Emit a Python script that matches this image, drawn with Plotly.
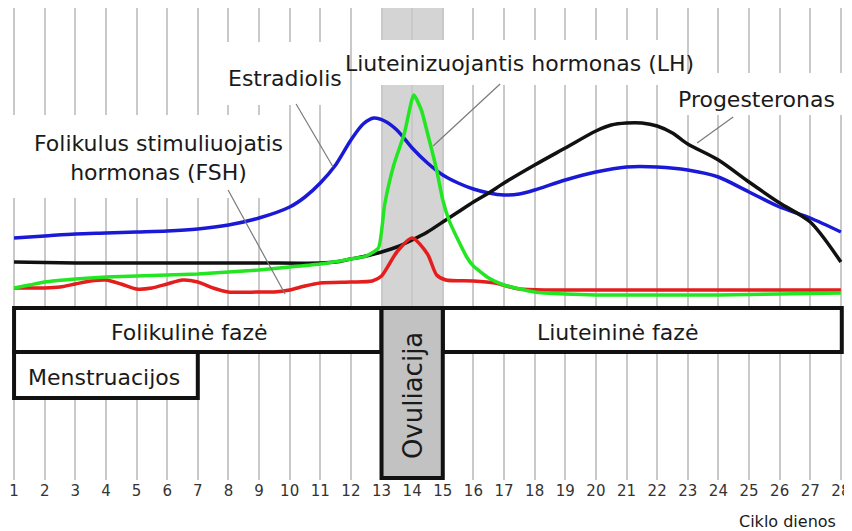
import plotly.graph_objects as go

# cycle days (x axis)
days = list(range(1, 29))

# hormone levels, arbitrary units
estr_day = [1, 2, 3, 4, 5, 6, 7, 8, 9, 10, 10.5, 11, 11.5, 12, 12.4, 12.75, 13.1, 13.5,
            14, 14.5, 15, 15.5, 16, 16.5, 17, 17.5, 18, 19, 20, 21, 22, 23, 24, 25, 26, 27, 28]
estr_lvl = [242, 244, 246, 247, 248, 249, 251, 255, 262, 273, 283, 297, 315, 340, 356, 362, 359, 350,
            332, 317, 305, 297, 291, 287, 285, 286, 290, 300, 308, 313, 313, 310, 303, 288, 273, 262, 248]

prog_day = [1, 3, 5, 7, 9, 11, 11.5, 12, 12.5, 13, 13.5, 14, 14.5, 15, 15.5, 16, 16.5, 17,
            18, 19, 20, 20.5, 21, 21.5, 22, 22.5, 23, 24, 25, 26, 27, 28]
prog_lvl = [218, 217, 217, 217, 217, 217, 218, 221, 224, 228, 233, 240, 248, 258, 268, 278, 287, 297,
            315, 332, 349, 355, 357, 357, 354, 347, 336, 320, 298, 277, 258, 218]

lh_day = [1, 1.5, 2, 3, 4, 5, 6, 7, 8, 9, 10, 11, 12, 12.5, 12.9, 13.1, 13.4, 13.75, 14.05,
          14.3, 14.5, 14.8, 15, 15.2, 15.5, 15.8, 16, 16.5, 17, 18, 19, 20, 22, 24, 26, 28]
lh_lvl = [192, 195, 198, 201, 203, 204, 205, 206, 208, 210, 213, 216, 221, 224, 232, 275, 315, 347, 385,
          370, 347, 310, 280, 260, 240, 222, 214, 202, 195, 188, 186, 185, 185, 185, 186, 187]

fsh_day = [1, 2, 2.5, 3, 3.5, 4, 4.5, 5, 5.5, 6, 6.5, 7, 7.5, 8, 9, 9.5, 10, 10.5, 11, 12, 12.7,
           13, 13.5, 14, 14.5, 14.8, 15.1, 16, 16.7, 17.5, 18.5, 20, 24, 28]
fsh_lvl = [192, 192, 193, 196, 199, 200, 196, 191, 192, 196, 200, 198, 192, 188, 188, 188, 190, 194, 197, 198, 199,
           204, 228, 242, 226, 205, 200, 199, 197, 191, 190, 190, 190, 190]

FONT = "DejaVu Sans"
OFF = 8  # page body margin in the html


def px_day(px):
    return 1 + (px - 14) / 30.62


def px_lvl(py):
    return 480 - py


fig = go.Figure()

fig.add_trace(go.Scatter(x=estr_day, y=estr_lvl, mode="lines", name="Estradiolis",
                         line=dict(color="#1a1ad6", width=3.5, shape="spline", smoothing=0.8)))
fig.add_trace(go.Scatter(x=prog_day, y=prog_lvl, mode="lines", name="Progesteronas",
                         line=dict(color="#111111", width=3.5, shape="spline", smoothing=0.8)))
fig.add_trace(go.Scatter(x=fsh_day, y=fsh_lvl, mode="lines", name="FSH",
                         line=dict(color="#e41d1d", width=3.5, shape="spline", smoothing=0.7)))
fig.add_trace(go.Scatter(x=lh_day, y=lh_lvl, mode="lines", name="LH",
                         line=dict(color="#22e622", width=3.5, shape="spline", smoothing=0.5)))

shapes = []
# ovulation band
shapes.append(dict(type="rect", layer="below", x0=13, x1=15, y0=0, y1=472,
                   fillcolor="#d4d4d4", line_width=0))

# white backgrounds behind labels (cover the grid)
for x0, x1, y0, y1 in [(10, 280, 115, 198), (225, 346, 42, 105),
                       (354, 685, 40, 85), (670, 850, 73, 115)]:
    shapes.append(dict(type="rect", layer="between", x0=px_day(x0), x1=px_day(x1),
                       y0=px_lvl(y1), y1=px_lvl(y0), fillcolor="white", line_width=0))

# phase boxes
for x0, x1, y0, y1, fill in [(1, 13, 172, 128, "white"),
                             (15, 28.03, 172, 128, "white"),
                             (1, 7, 128, 82, "white"),
                             (13, 15, 172, 2, "#c2c2c2")]:
    shapes.append(dict(type="rect", layer="above", x0=x0, x1=x1, y0=y0, y1=y1,
                       fillcolor=fill, line=dict(color="#111111", width=4)))

# pointer lines
for a, b, c, d in [(228, 190, 285, 294), (296, 104, 333, 167),
                   (500, 84, 433, 146), (733, 117, 697, 143)]:
    shapes.append(dict(type="line", layer="above", x0=px_day(a), y0=px_lvl(b),
                       x1=px_day(c), y1=px_lvl(d), line=dict(color="#7a7a7a", width=1.2)))

annotations = []
for text, x, y, size, ang in [
    ("Estradiolis", 285, 78, 22, 0),
    ("Liuteinizuojantis hormonas (LH)", 519, 63, 22, 0),
    ("Progesteronas", 756, 99, 22, 0),
    ("Folikulus stimuliuojatis<br>hormonas (FSH)", 158, 158, 22, 0),
    ("Folikulinė fazė", 189, 332, 22, 0),
    ("Liuteininė fazė", 617, 332, 22, 0),
    ("Menstruacijos", 104, 377, 22, 0),
    ("Ovuliacija", 413, 396, 26, -90),
]:
    annotations.append(dict(text=text, x=px_day(x), y=px_lvl(y), xref="x", yref="y",
                            showarrow=False, textangle=ang, align="center",
                            font=dict(family=FONT, size=size, color="#1a1a1a")))

# axis title sits below the plot area, so place it on paper
annotations.append(dict(text="Ciklo dienos", xref="paper", yref="paper",
                        x=(787 - 11) / 836, y=(480 - 521) / 472, showarrow=False,
                        xanchor="center", yanchor="middle",
                        font=dict(family=FONT, size=16, color="#1a1a1a")))

fig.update_layout(
    width=852 - OFF, height=531 - OFF,
    margin=dict(l=3, r=5, t=0, b=51),
    plot_bgcolor="white", paper_bgcolor="white",
    showlegend=False,
    shapes=shapes,
    annotations=annotations,
    xaxis=dict(range=[0.9, 28.2], tickmode="array", tickvals=days,
               ticktext=[str(d) for d in days], showgrid=True, gridcolor="#c9c9c9",
               gridwidth=2, zeroline=False, showline=False, ticks="",
               tickfont=dict(family=FONT, size=15, color="#333333"), automargin=False),
    yaxis=dict(range=[0, 472], visible=False, showgrid=False, zeroline=False,
               fixedrange=True),
)

fig.write_html("out.html")
